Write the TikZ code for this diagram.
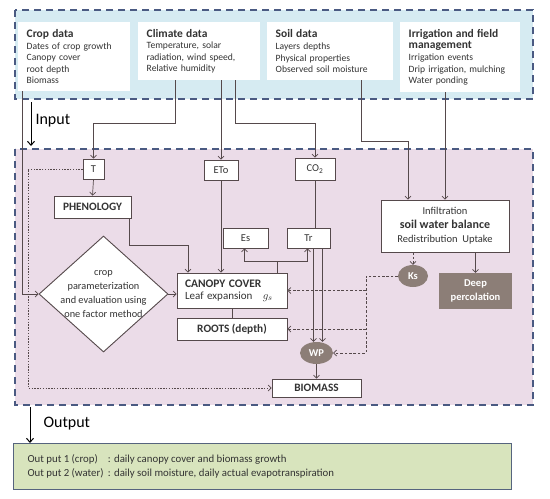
\documentclass[tikz,border=0pt]{standalone}
\usepackage{fontspec}
\setmainfont{Carlito}
\usetikzlibrary{shapes.geometric,arrows.meta}
\definecolor{FlowBand}{HTML}{D6EBF2}
\definecolor{FlowDash}{HTML}{4A5A82}
\definecolor{FlowPink}{HTML}{EBDCE8}
\definecolor{FlowLine}{HTML}{55494B}
\definecolor{FlowText}{HTML}{333333}
\definecolor{FlowStone}{HTML}{8C7E77}
\definecolor{FlowGreen}{HTML}{D8E4BD}
\definecolor{FlowGreenEdge}{HTML}{56647E}
\newcommand{\datatitlefont}{\bfseries\fontsize{11.5}{13.5}\selectfont}

\begin{document}
\begin{tikzpicture}[x=1pt,y=-1pt,
  every node/.style={text=FlowText},
  band/.style={draw=FlowDash,line width=1.6pt,dash pattern=on 7pt off 5pt},
  databox/.style={fill=white,anchor=north west,align=left,inner xsep=8.5pt,inner ysep=3pt,font=\fontsize{9.6}{11.6}\selectfont},
  varbox/.style={draw=FlowLine,fill=white,line width=0.8pt,inner sep=0pt,font=\fontsize{10.5}{12}\selectfont},
  procbox/.style={varbox,font=\bfseries\fontsize{11.3}{13}\selectfont},
  stone/.style={fill=FlowStone,text=white,inner sep=0pt,font=\bfseries\fontsize{10.5}{12}\selectfont},
  flow/.style={draw=FlowLine,line width=0.7pt,-{Straight Barb[length=3pt,width=6pt]}},
  link/.style={draw=FlowLine,line width=0.7pt},
  dotflow/.style={flow,dash pattern=on 1.4pt off 1.4pt},
  dashflow/.style={flow,dash pattern=on 2.6pt off 1.8pt},
  bigarrow/.style={draw=black,line width=1pt,-{Straight Barb[length=4pt,width=7pt]}},
  stage/.style={text=black,anchor=west,font=\fontsize{16}{18}\selectfont}]
  \useasboundingbox (0,0) rectangle (550,499);

  % input band
  \fill[FlowBand] (15,10) rectangle (533,99);
  \node[databox,text width=95pt,minimum width=112pt,minimum height=69pt] (crop) at (18,22)
    {{\datatitlefont Crop data}\\Dates of crop growth\\Canopy cover\\root depth\\Biomass};
  \node[databox,text width=105pt,minimum width=122pt,minimum height=58pt] (climate) at (138,22)
    {{\datatitlefont Climate data}\\Temperature, solar\\radiation, wind speed,\\Relative humidity};
  \node[databox,text width=109pt,minimum width=126pt,minimum height=58pt] (soil) at (267,22)
    {{\datatitlefont Soil data}\\Layers depths\\Physical properties\\Observed soil moisture};
  \node[databox,text width=103pt,minimum width=120pt,minimum height=70pt] (irrig) at (400,22)
    {{\datatitlefont Irrigation and field\\management}\\Irrigation events\\Drip irrigation, mulching\\Water ponding};
  \draw[band] (15,10) rectangle (533,99);

  % model band
  \fill[FlowPink] (15,149) rectangle (533,405);
  \draw[band] (15,149) rectangle (533,405);

  \node[varbox,minimum width=21pt,minimum height=20pt] (T) at (93.5,169) {T};
  \node[varbox,minimum width=34pt,minimum height=20pt] (ETo) at (221,170) {ETo};
  \node[varbox,minimum width=40pt,minimum height=22pt] (CO2) at (315,169) {CO\textsubscript{2}};
  \node[procbox,minimum width=77pt,minimum height=22pt] (pheno) at (92.5,207) {PHENOLOGY};
  \node[varbox,minimum width=45pt,minimum height=20pt] (Es) at (245.5,238) {Es};
  \node[varbox,minimum width=43pt,minimum height=20pt] (Tr) at (308.5,238) {Tr};
  \node[varbox,minimum width=128pt,minimum height=52pt,align=center,font=\fontsize{10.5}{14}\selectfont] (wb) at (445,226)
    {Infiltration\\{\bfseries\fontsize{12}{14}\selectfont soil water balance}\\Redistribution~~Uptake};
  \node[draw=FlowLine,fill=white,line width=0.9pt,diamond,minimum width=129pt,minimum height=116pt,inner sep=0pt,
    label={[align=center,text=FlowText,font=\fontsize{10.3}{14}\selectfont]center:crop\\parameterization\\and evaluation using\\one factor method}] (param) at (103.5,294) {};
  \node[varbox,minimum width=110pt,minimum height=35pt,text width=94pt,inner xsep=8pt,align=left] (canopy) at (232,290.5)
    {{\bfseries\fontsize{11.5}{14}\selectfont CANOPY COVER}\\{\fontsize{11}{13}\selectfont Leaf expansion~~~$g_s$}};
  \node[procbox,minimum width=110pt,minimum height=22pt] (roots) at (232,329) {ROOTS (depth)};
  \node[stone,ellipse,minimum width=30pt,minimum height=22pt] (Ks) at (413,276) {Ks};
  \node[stone,minimum width=73pt,minimum height=36pt,align=center,font=\bfseries\fontsize{10.5}{14}\selectfont] (deep) at (475.5,291) {Deep\\percolation};
  \node[stone,ellipse,minimum width=33pt,minimum height=22pt] (WP) at (316.5,353) {WP};
  \node[procbox,minimum width=89pt,minimum height=18pt] (biomass) at (316.5,388) {BIOMASS};

  % inputs into the model
  \draw[flow] ([xshift=4pt]crop.south west) |- (param.west);
  \draw[flow] ([xshift=-24pt]climate.south) -- ++(0,43) -| (T.north);
  \draw[flow] (climate.south -| ETo.north) -- (ETo.north);
  \draw[flow] ([xshift=36pt]climate.south) -- ++(0,43) -| (CO2.north);
  \draw[flow] ([xshift=31pt]soil.south) -- ++(0,61) -| ([xshift=-37pt]wb.north);
  \draw[flow] (irrig.south -| wb.north) -- (wb.north);

  % crop side
  \draw[flow] (T.south) -- (pheno.north);
  \coordinate (dotL) at (28,0);
  \draw[dotflow] (T.west) -| (dotL |- biomass.west) -- (biomass.west);
  \draw[flow] ([xshift=-2pt]pheno.south east) -- ++(0,27) -| ([xshift=-44pt]canopy.north);
  \draw[flow] (ETo.south) -- (ETo.south |- canopy.north);
  \draw[link] (CO2.south) -- (CO2.south |- Tr.north);
  \draw[flow] (param.east) -- (param.east -| canopy.west);
  \draw[link] (canopy.south) -- (roots.north);
  \draw[link] ([xshift=45pt]canopy.north) -- ++(0,-11) coordinate (split);
  \draw[flow] (split) -| ([xshift=-1pt]Es.south);
  \draw[flow] (split) -| ([xshift=-1pt]Tr.south);
  \draw[flow] ([xshift=-3pt]WP.north |- Tr.south) -- ([xshift=-3pt]WP.north);
  \draw[flow] ([xshift=6pt]WP.north |- Tr.south) -- ([xshift=6pt]WP.north);
  \draw[flow] (WP.south) -- (biomass.north);

  % water side
  \draw[dashflow] (Ks.north |- wb.south) -- (Ks.north);
  \draw[flow] (deep.north |- wb.south) -- (deep.north);
  \coordinate (ksbus) at (366,0);
  \draw[dashflow] (Ks.west) -| (ksbus |- WP.east) -- (WP.east);
  \draw[dashflow] (ksbus |- canopy.east) -- (canopy.east);
  \draw[dashflow] (ksbus |- roots.east) -- (roots.east);

  % input / output
  \coordinate (inTop) at (31,102);
  \coordinate (inEnd) at (31,146);
  \draw[bigarrow] (inTop) -- (inEnd);
  \node[stage] (inLabel) at (32,121) {Input};
  \node[draw=FlowGreenEdge,fill=FlowGreen,line width=1.3pt,anchor=north west,minimum width=498pt,minimum height=46pt] (out) at (13,443) {};
  \node[anchor=west,align=left,font=\fontsize{10.8}{14}\selectfont] (outText) at (24,467)
    {\begin{tabular}{@{}l@{ }l@{}}Out put 1 (crop)\hphantom{w} & : daily canopy cover and biomass growth\\Out put 2 (water) & : daily soil moisture, daily actual evapotranspiration\end{tabular}};
  \coordinate (outTop) at (30,407);
  \draw[bigarrow] (outTop) -- ([xshift=17pt]out.north west);
  \node[stage] (outLabel) at (40,424) {Output};
\end{tikzpicture}
\end{document}
